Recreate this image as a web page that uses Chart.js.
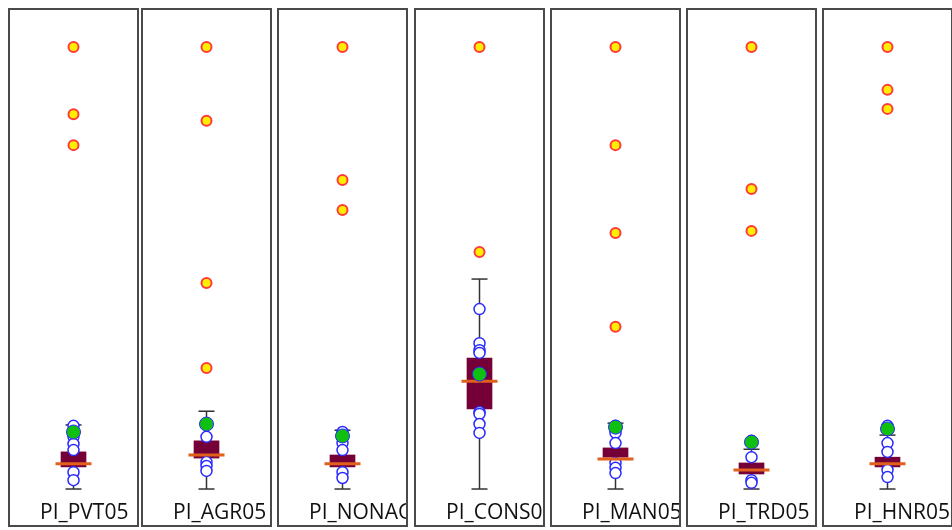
<!DOCTYPE html>
<html>
<head>
<meta charset="utf-8">
<script src="https://cdn.jsdelivr.net/npm/chart.js@4.4.1/dist/chart.umd.min.js"></script>
<style>
    body { margin: 0; background: #fff; width: 952px; height: 530px; overflow: hidden; position: relative; }
    .panel {
        position: absolute;
        top: 8px;
        width: 127px;
        height: 515px;
        border: 2px solid #4a4a4a;
        overflow: hidden;
        background: #fff;
    }
    .panel canvas { position: absolute; left: 0; top: 0; }
    .etiqueta {
        position: absolute;
        left: 30px;
        top: 491px;
        font-family: "Open Sans", sans-serif;
        font-size: 21px;
        line-height: 21px;
        color: #111;
        white-space: nowrap;
    }
</style>
</head>
<body>
<script>
// categorías
const categorias = ["PI_PVT05", "PI_AGR05", "PI_NONAGR05", "PI_CONS05", "PI_MAN05", "PI_TRD05", "PI_HNR05"];

// resumen de cada caja (escala 0-100 por panel)
const minimos   = [0, 0, 0, 0, 0, 0, 0];
const q1        = [5.0, 7.0, 5.0, 18.1, 7.2, 3.4, 5.0];
const medianas  = [5.7, 7.7, 5.7, 24.4, 6.8, 4.3, 5.7];
const q3        = [8.4, 10.9, 7.7, 29.6, 9.3, 5.9, 7.2];
const maximos   = [14.5, 17.6, 13.3, 47.5, 14.9, 9.0, 12.2];
const medias    = [12.9, 14.7, 12.0, 26.0, 14.0, 10.6, 13.6];

// observaciones (círculos azules)
const puntos = [
    [14.3, 11.8, 10.2, 8.8, 3.8, 2.0],
    [14.7, 11.8, 6.1, 5.2, 4.1],
    [12.9, 10.4, 8.8, 3.8, 2.5],
    [40.7, 33.0, 31.4, 30.8, 17.4, 17.0, 14.7, 12.7],
    [14.3, 12.7, 10.4, 5.9, 4.8, 3.6],
    [10.9, 7.2, 2.0, 1.4],
    [14.3, 10.4, 8.4, 4.3, 2.7]
];

// valores atípicos
const atipicos = [
    [100, 84.8, 77.8],
    [100, 83.3, 46.6, 27.4],
    [100, 69.9, 63.1],
    [100, 53.6],
    [100, 77.8, 57.9, 36.7],
    [100, 67.9, 58.4],
    [100, 90.3, 86.0]
];

const posX = [8, 141, 277, 414, 550, 686, 822];

categorias.forEach((nombre, i) => {
    const panel = document.createElement("div");
    panel.className = "panel";
    panel.style.left = posX[i] + "px";
    const canvas = document.createElement("canvas");
    canvas.width = 127;
    canvas.height = 515;
    panel.appendChild(canvas);
    const etiqueta = document.createElement("div");
    etiqueta.className = "etiqueta";
    etiqueta.textContent = nombre;
    panel.appendChild(etiqueta);
    document.body.appendChild(panel);

    const pt = v => ({ x: nombre, y: v });

    new Chart(canvas.getContext("2d"), {
        type: "bar",
        data: {
            labels: [nombre],
            datasets: [
                {
                    // bigotes
                    type: "line",
                    data: [pt(minimos[i]), pt(maximos[i])],
                    borderColor: "#333",
                    borderWidth: 1.5,
                    pointStyle: "line",
                    pointRadius: 8,
                    pointBorderWidth: 1.5,
                    pointBorderColor: "#333",
                    order: 6
                },
                {
                    // caja
                    data: [[q1[i], q3[i]]],
                    backgroundColor: "#750038",
                    barThickness: 25,
                    order: 5
                },
                {
                    type: "line",
                    showLine: false,
                    data: puntos[i].map(pt),
                    pointRadius: 5.5,
                    pointBackgroundColor: "#fff",
                    pointBorderColor: "#2a2aff",
                    pointBorderWidth: 1.5,
                    order: 4
                },
                {
                    // mediana
                    type: "line",
                    showLine: false,
                    data: [pt(medianas[i])],
                    pointStyle: "line",
                    pointRadius: 18,
                    pointBorderWidth: 3,
                    pointBorderColor: "#e0601c",
                    order: 3
                },
                {
                    // media
                    type: "line",
                    showLine: false,
                    data: [pt(medias[i])],
                    pointRadius: 7,
                    pointBackgroundColor: "#10c010",
                    pointBorderColor: "#2a2aff",
                    pointBorderWidth: 1,
                    order: 2
                },
                {
                    type: "line",
                    showLine: false,
                    data: atipicos[i].map(pt),
                    pointRadius: 5,
                    pointBackgroundColor: "#ffee00",
                    pointBorderColor: "#ff3a3a",
                    pointBorderWidth: 2,
                    order: 1
                }
            ]
        },
        options: {
            responsive: false,
            animation: false,
            layout: { padding: 0, autoPadding: false },
            plugins: { legend: { display: false }, tooltip: { enabled: false }, title: { display: false } },
            scales: {
                x: { type: "category", display: false },
                y: { display: false, min: -8.14, max: 108.37 }
            }
        }
    });
});
</script>
</body>
</html>
